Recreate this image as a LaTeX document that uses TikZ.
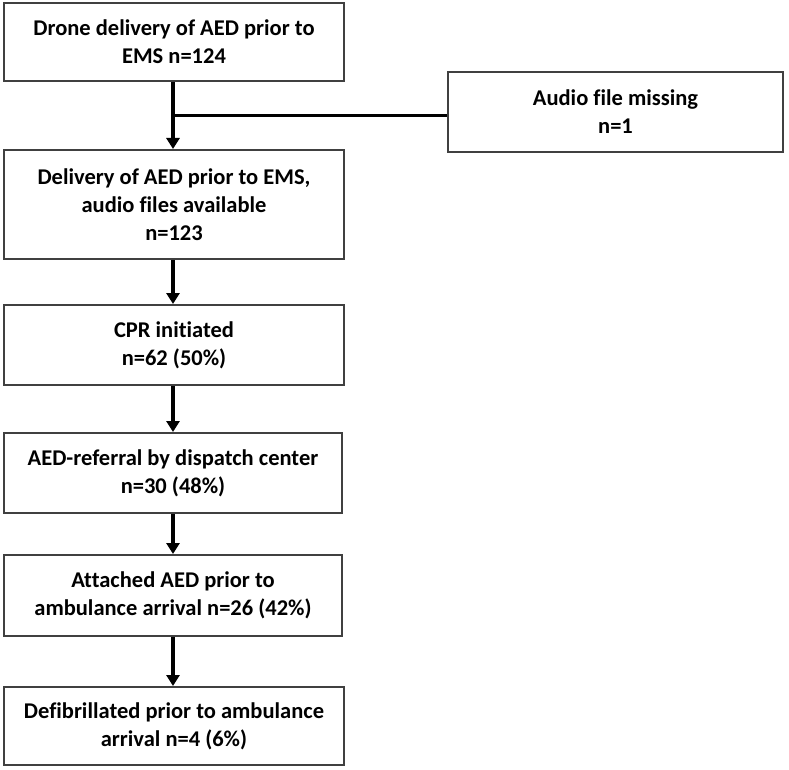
\documentclass[tikz,border=0pt]{standalone}
\usepackage{fontspec}
\setmainfont{Carlito}[Ligatures={NoCommon}]
\usetikzlibrary{arrows.meta}
\definecolor{boxline}{HTML}{404040}
\begin{document}
\begin{tikzpicture}[x=1pt,y=-1pt,
  flowbox/.style={draw=boxline, line width=2pt, fill=white, rectangle, inner sep=0pt,
    align=center, font=\fontsize{22.5}{28}\selectfont\bfseries},
  flowarrow/.style={line width=3.5pt, black, -{Triangle[width=13pt,length=11pt]}},
  flowline/.style={line width=3pt, black}]
\useasboundingbox (0,0) rectangle (789,770);
\node[flowbox, minimum width=340pt, minimum height=78pt] (b1) at (174,42) {Drone delivery of AED prior to\\EMS n=124};
\node[flowbox, minimum width=335pt, minimum height=80pt] (b2) at (615.5,112) {Audio file missing\\n=1};
\node[flowbox, minimum width=340pt, minimum height=109pt] (b3) at (174,204.5) {Delivery of AED prior to EMS,\\audio files available\\n=123};
\node[flowbox, minimum width=340pt, minimum height=80pt] (b4) at (174,345) {CPR initiated\\n=62 (50\%)};
\node[flowbox, minimum width=338pt, minimum height=80pt] (b5) at (173,473) {AED-referral by dispatch center\\n=30 (48\%)};
\node[flowbox, minimum width=338pt, minimum height=81pt] (b6) at (173,595.5) {Attached AED prior to\\ambulance arrival n=26 (42\%)};
\node[flowbox, minimum width=340pt, minimum height=78pt] (b7) at (174,726) {Defibrillated prior to ambulance\\arrival n=4 (6\%)};
\coordinate (j) at (173,116);
\draw[flowarrow] ([xshift=-1pt]b1.south) -- ([xshift=-1pt]b3.north);
\draw[flowline] (j) -- (j -| b2.west);
\draw[flowarrow] ([xshift=-1pt]b3.south) -- ([xshift=-1pt]b4.north);
\draw[flowarrow] ([xshift=-1pt]b4.south) -- ([xshift=-1pt]b4.south |- b5.north);
\draw[flowarrow] (b5.south) -- (b6.north);
\draw[flowarrow] (b6.south) -- (b6.south |- b7.north);
\end{tikzpicture}
\end{document}
